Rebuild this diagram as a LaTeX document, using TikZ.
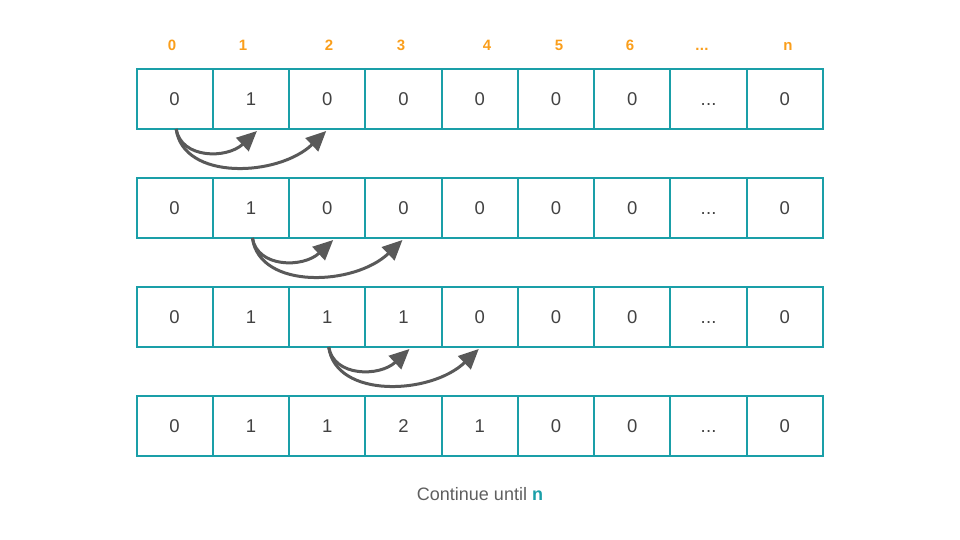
\documentclass[tikz,border=0pt]{standalone}
\usepackage{fontspec}
\setmainfont{Liberation Sans}
\usetikzlibrary{arrows.meta,calc}
\definecolor{teal1}{HTML}{1A9FA8}
\definecolor{orange1}{HTML}{FA9E1B}
\definecolor{txt}{HTML}{424242}
\definecolor{graytxt}{HTML}{5F5F5F}
\definecolor{arrowgray}{HTML}{595959}
\newcommand{\mydots}{.\kern0.3pt.\kern0.3pt.}
\tikzset{
  cell/.style={draw=teal1, line width=2pt, minimum width=76.28pt, minimum height=60pt,
    inner sep=0pt, outer sep=0pt, text=txt, text height=13pt, text depth=0pt,
    font=\fontsize{18.5}{20}\selectfont},
  idx/.style={text=orange1, font=\fontsize{15}{16}\selectfont\bfseries, inner sep=0pt,
    text height=11pt, text depth=0pt},
  jump/.style={draw=arrowgray, line width=3pt, -{Triangle[length=20pt,width=18pt]}},
}
\begin{document}
\begin{tikzpicture}[x=1pt,y=-1pt]
\useasboundingbox (0,0) rectangle (960,540);
% index labels
\foreach \lab/\xx [count=\i] in {0/172,1/243,2/329,3/401,4/487,5/559,6/630,\mydots/702,n/788}
  \node[idx] (idx\i) at (\xx,44.7) {\lab};
% rows
\foreach \r/\vals in {1/{0,1,0,0,0,0,0,\mydots,0},2/{0,1,0,0,0,0,0,\mydots,0},3/{0,1,1,1,0,0,0,\mydots,0},4/{0,1,1,2,1,0,0,\mydots,0}}{
  \foreach \v [count=\c from 0] in \vals {
    \node[cell] (r\r c\c) at ({136.5+76.28*(\c+0.5)},{69+109*(\r-1)+30}) {\v};
  }
}
% arrows
\foreach \r/\a/\b/\d in {1/0/1/2,2/1/2/3,3/2/3/4}{
  \coordinate (s\r) at ($(r\r c\a.south)+(1.5,0)$);
  \coordinate (e\r a) at ($(r\r c\b.south)+(6,2)$);
  \coordinate (e\r b) at ($(r\r c\d.south)+(-1,2)$);
  \draw[jump] (s\r) .. controls +(5,30) and +(-30,28) .. (e\r a);
  \draw[jump] (s\r) .. controls +(7,52) and +(-48,46) .. (e\r b);
}
\node[text=graytxt, font=\fontsize{18}{20}\selectfont, inner sep=0pt] (cont) at (480,494)
  {Continue until \textcolor{teal1}{\bfseries n}};
\end{tikzpicture}
\end{document}
